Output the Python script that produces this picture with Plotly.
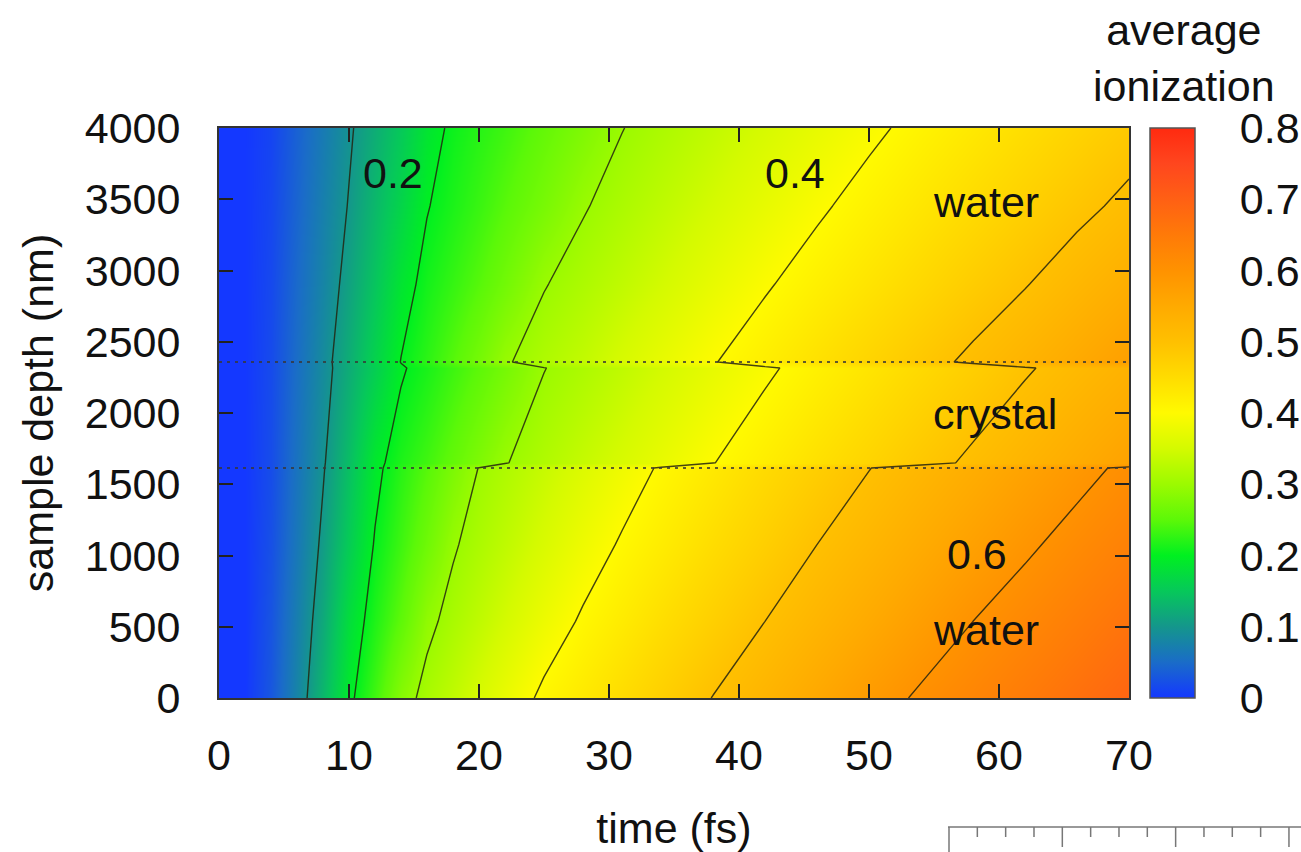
import plotly.graph_objects as go

# ---------------- data ----------------
time_fs = [0, 2, 4, 6, 8, 10, 12, 14, 16, 18, 20, 22, 25, 28, 31, 34, 38, 42, 46, 50, 54, 58, 62, 66, 70]
depth_nm = [0, 538, 1076, 1614, 1650, 2316, 2358, 2905, 3453, 4000]

# average ionization along time at each depth row
ion_depth_0 = [0, 0, 0.03, 0.079, 0.133, 0.191, 0.235, 0.283, 0.312, 0.332, 0.354, 0.376, 0.408, 0.428, 0.450, 0.472, 0.501, 0.527, 0.554, 0.581, 0.606, 0.627, 0.648, 0.669, 0.690]
ion_depth_538 = [0, 0, 0.027, 0.072, 0.119, 0.176, 0.217, 0.252, 0.291, 0.312, 0.331, 0.350, 0.379, 0.405, 0.425, 0.446, 0.473, 0.500, 0.525, 0.550, 0.575, 0.600, 0.621, 0.642, 0.663]
ion_depth_1076 = [0, 0, 0.023, 0.064, 0.107, 0.155, 0.203, 0.234, 0.265, 0.296, 0.314, 0.331, 0.356, 0.381, 0.404, 0.423, 0.449, 0.474, 0.500, 0.523, 0.547, 0.570, 0.593, 0.615, 0.636]
ion_depth_1614 = [0, 0, 0.02, 0.059, 0.097, 0.142, 0.190, 0.222, 0.247, 0.275, 0.301, 0.316, 0.338, 0.360, 0.382, 0.404, 0.428, 0.452, 0.475, 0.499, 0.521, 0.543, 0.565, 0.587, 0.609]
ion_depth_1650 = [0, 0, 0.02, 0.058, 0.096, 0.140, 0.190, 0.216, 0.235, 0.256, 0.277, 0.298, 0.318, 0.337, 0.355, 0.374, 0.399, 0.421, 0.443, 0.464, 0.486, 0.507, 0.527, 0.547, 0.567]
ion_depth_2316 = [0, 0, 0.018, 0.053, 0.087, 0.122, 0.157, 0.196, 0.214, 0.233, 0.251, 0.270, 0.299, 0.315, 0.332, 0.349, 0.372, 0.394, 0.415, 0.435, 0.455, 0.475, 0.496, 0.515, 0.533]
ion_depth_2358 = [0, 0, 0.018, 0.052, 0.087, 0.124, 0.163, 0.201, 0.224, 0.247, 0.270, 0.296, 0.317, 0.334, 0.354, 0.373, 0.398, 0.420, 0.442, 0.464, 0.486, 0.508, 0.529, 0.551, 0.573]
ion_depth_2905 = [0, 0, 0.016, 0.048, 0.079, 0.112, 0.147, 0.185, 0.211, 0.229, 0.247, 0.267, 0.298, 0.315, 0.332, 0.349, 0.373, 0.396, 0.417, 0.437, 0.457, 0.478, 0.498, 0.520, 0.541]
ion_depth_3453 = [0, 0, 0.014, 0.043, 0.073, 0.102, 0.134, 0.165, 0.198, 0.215, 0.231, 0.248, 0.272, 0.297, 0.314, 0.330, 0.351, 0.373, 0.394, 0.414, 0.433, 0.452, 0.471, 0.490, 0.509]
ion_depth_4000 = [0, 0, 0.012, 0.040, 0.067, 0.095, 0.123, 0.151, 0.185, 0.207, 0.221, 0.234, 0.256, 0.277, 0.299, 0.314, 0.333, 0.353, 0.373, 0.392, 0.411, 0.429, 0.447, 0.465, 0.483]

interfaces_nm = [1614, 2358]
x_ticks = [0, 10, 20, 30, 40, 50, 60, 70]
y_ticks = [0, 500, 1000, 1500, 2000, 2500, 3000, 3500, 4000]
cb_ticks = [0, 0.1, 0.2, 0.3, 0.4, 0.5, 0.6, 0.7, 0.8]

# text labels: (text, time, depth)
labels = [("0.2", 13.4, 3684), ("0.4", 44.3, 3684), ("water", 59.0, 3481),
          ("crystal", 59.7, 1993), ("0.6", 58.3, 1010), ("water", 59.0, 477)]

z = [ion_depth_0, ion_depth_538, ion_depth_1076, ion_depth_1614, ion_depth_1650,
     ion_depth_2316, ion_depth_2358, ion_depth_2905, ion_depth_3453, ion_depth_4000]

# ---------------- style ----------------
FONT = "Liberation Sans, Arial, sans-serif"
TXT = "#111111"
W, H = 1301, 852
ML, MR, MT, MB = 219, 172, 128, 154
PW, PH = W - ML - MR, H - MT - MB

def px_x(p):
    return (p - ML) / PW

def px_y(p):
    return (H - MB - p) / PH

colorscale = [
    [0.0, "#1438ff"], [0.0625, "#1a6cc8"], [0.125, "#14968c"], [0.1875, "#06c85a"],
    [0.25, "#00f020"], [0.3125, "#5cf808"], [0.375, "#9cfa00"], [0.4375, "#d4fa00"],
    [0.5, "#fffa00"], [0.5625, "#ffdc00"], [0.625, "#ffc000"], [0.6875, "#ffaa00"],
    [0.75, "#ff9200"], [0.8125, "#ff7a08"], [0.875, "#ff6014"], [0.9375, "#ff461e"],
    [1.0, "#ff2a10"],
]

cb_left_px = 1150
cb_thick = 45

fig = go.Figure()
fig.add_trace(go.Heatmap(
    x=time_fs, y=depth_nm, z=z, zsmooth="best", zmin=0, zmax=0.8,
    colorscale=colorscale, hoverinfo="skip",
    colorbar=dict(
        x=px_x(cb_left_px), xanchor="left", xref="paper", y=0.5, yanchor="middle",
        len=1, lenmode="fraction", thickness=cb_thick, thicknessmode="pixels",
        xpad=0, ypad=0, outlinewidth=1.5, outlinecolor="#555555",
        tickvals=cb_ticks, ticks="outside", ticklen=36, tickcolor="rgba(0,0,0,0)",
        tickfont=dict(size=43, color=TXT, family=FONT),
    ),
))
fig.add_trace(go.Contour(
    x=time_fs, y=depth_nm, z=z,
    contours=dict(start=0.1, end=0.6, size=0.1, coloring="none", showlabels=False),
    line=dict(color="rgba(35,35,15,0.85)", width=1.4, smoothing=0),
    showscale=False, hoverinfo="skip",
))

shapes = []
for d in interfaces_nm:
    shapes.append(dict(type="line", xref="x", yref="y", x0=0, x1=70, y0=d, y1=d,
                       line=dict(color="rgba(55,55,55,0.8)", width=2, dash="3px,5px"), layer="above"))

# inside ticks on both sides of colour bar
cb_x0 = px_x(cb_left_px)
cb_x1 = px_x(cb_left_px + cb_thick)
tick_w = 12 / PW
for v in cb_ticks[1:-1]:
    yy = v / 0.8
    shapes.append(dict(type="line", xref="paper", yref="paper", x0=cb_x0, x1=cb_x0 + tick_w, y0=yy, y1=yy,
                       line=dict(color="#333333", width=2)))
    shapes.append(dict(type="line", xref="paper", yref="paper", x0=cb_x1 - tick_w, x1=cb_x1, y0=yy, y1=yy,
                       line=dict(color="#333333", width=2)))

# cropped ruler fragment in the bottom-right corner of the page
ruler_y = 827
shapes.append(dict(type="line", xref="paper", yref="paper", x0=px_x(948), x1=px_x(1301),
                   y0=px_y(ruler_y), y1=px_y(ruler_y), line=dict(color="#777777", width=1.5)))
shapes.append(dict(type="line", xref="paper", yref="paper", x0=px_x(949), x1=px_x(949),
                   y0=px_y(ruler_y), y1=px_y(852), line=dict(color="#777777", width=1.5)))
for k in range(1, 13):
    xx = 949 + 28.33 * k
    ln = 20 if k % 4 == 0 else 10
    shapes.append(dict(type="line", xref="paper", yref="paper", x0=px_x(xx), x1=px_x(xx),
                       y0=px_y(ruler_y), y1=px_y(ruler_y + ln), line=dict(color="#777777", width=1.5)))

annotations = []
for text, tx, dy in labels:
    annotations.append(dict(text=text, x=tx, y=dy, xref="x", yref="y", showarrow=False,
                            xanchor="center", yanchor="middle",
                            font=dict(size=43, color=TXT, family=FONT)))
annotations.append(dict(text="average<br>ionization", x=px_x(1184), y=px_y(58), xref="paper", yref="paper",
                        showarrow=False, xanchor="center", yanchor="middle",
                        font=dict(size=43, color=TXT, family=FONT)))

axis_common = dict(
    ticks="inside", ticklen=14, tickwidth=2, tickcolor="#222222",
    showline=True, linecolor="#333333", linewidth=2, mirror="ticks",
    showgrid=False, zeroline=False, automargin=False,
    tickfont=dict(size=43, color=TXT, family=FONT),
)

fig.update_layout(
    width=W, height=H,
    margin=dict(l=ML, r=MR, t=MT, b=MB, pad=0, autoexpand=False),
    paper_bgcolor="white", plot_bgcolor="white",
    font=dict(family=FONT, size=43, color=TXT),
    xaxis=dict(range=[0, 70], tickvals=x_ticks, ticklabelstandoff=18,
               title=dict(text="time (fs)", standoff=35, font=dict(size=43, color=TXT, family=FONT)),
               **axis_common),
    yaxis=dict(range=[0, 4000], tickvals=y_ticks, ticklabelstandoff=28,
               title=dict(text="sample depth (nm)", standoff=18, font=dict(size=43, color=TXT, family=FONT)),
               **axis_common),
    shapes=shapes,
    annotations=annotations,
    showlegend=False,
)

fig.write_html("out.html")
